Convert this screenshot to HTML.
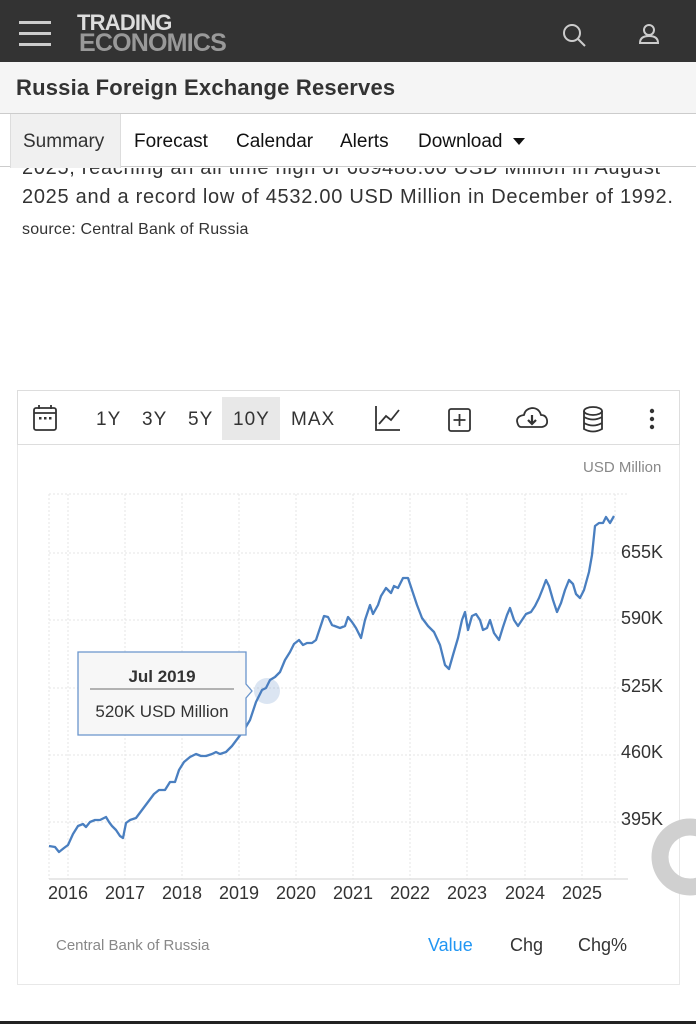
<!DOCTYPE html>
<html><head><meta charset="utf-8"><style>
*{margin:0;padding:0;box-sizing:border-box}
body{width:696px;height:1024px;overflow:hidden;background:#fff;font-family:"Liberation Sans",sans-serif;position:relative}
.abs{position:absolute}
</style></head><body>
<div class="abs" style="left:0;top:0;width:696px;height:62px;background:#333"></div>
<div class="abs" style="left:19px;top:21px;width:32px;height:3px;background:#ccc"></div>
<div class="abs" style="left:19px;top:32px;width:32px;height:3px;background:#ccc"></div>
<div class="abs" style="left:19px;top:43px;width:32px;height:3px;background:#ccc"></div>
<div class="abs" style="left:77px;top:13px;font-size:22px;font-weight:bold;color:#ddd;line-height:20px;letter-spacing:-0.8px">TRADING</div>
<div class="abs" style="left:79px;top:32px;font-size:25px;font-weight:bold;color:#999;line-height:22px;letter-spacing:-0.8px">ECONOMICS</div>
<svg class="abs" style="left:560px;top:22px" width="110" height="26"><circle cx="12" cy="11" r="8" fill="none" stroke="#ccc" stroke-width="2"/><line x1="18" y1="17" x2="25" y2="24" stroke="#ccc" stroke-width="2"/><circle cx="89" cy="8" r="5" fill="none" stroke="#ccc" stroke-width="2"/><path d="M80 21 Q80 14 89 14 Q98 14 98 21 Z" fill="none" stroke="#ccc" stroke-width="2"/></svg>
<div class="abs" style="left:0;top:62px;width:696px;height:52px;background:#f5f5f5;border-bottom:1px solid #ccc"></div>
<div class="abs" style="left:16px;top:75px;font-size:22px;font-weight:bold;color:#333;letter-spacing:0.2px">Russia Foreign Exchange Reserves</div>
<div class="abs" style="left:0;top:114px;width:696px;height:53px;border-bottom:1px solid #ccc;background:#fff"></div>
<div class="abs" style="left:10px;top:114px;width:111px;height:54px;background:#f0f0f0;border-left:1px solid #ddd;border-right:1px solid #ddd"></div>
<div class="abs" style="left:23px;top:131px;font-size:19px;color:#333">Summary</div>
<div class="abs" style="left:134px;top:131px;font-size:19px;color:#111">Forecast</div>
<div class="abs" style="left:236px;top:131px;font-size:19px;color:#111">Calendar</div>
<div class="abs" style="left:340px;top:131px;font-size:19px;color:#111">Alerts</div>
<div class="abs" style="left:418px;top:131px;font-size:19px;color:#111">Download</div>
<svg class="abs" style="left:513px;top:138px" width="12" height="8"><path d="M0 0H12L6 7Z" fill="#111"/></svg>
<div class="abs" style="left:22px;top:168px;width:660px;height:10px;overflow:hidden"><div style="margin-top:-10px;font-size:20px;line-height:20px;color:#333;letter-spacing:0.7px">2025, reaching an all time high of 689488.00 USD Million in August of</div></div>
<div class="abs" style="left:22px;top:186px;font-size:20px;color:#333;letter-spacing:0.72px">2025 and a record low of 4532.00 USD Million in December of 1992.</div>
<div class="abs" style="left:22px;top:221px;font-size:16px;color:#333;letter-spacing:0.2px">source: Central Bank of Russia</div>

<div class="abs" style="left:17px;top:390px;width:663px;height:595px;border:1px solid #e8e8e8"></div>
<div class="abs" style="left:17px;top:390px;width:663px;height:55px;border:1px solid #ddd"></div>
<div class="abs" style="left:222px;top:397px;width:58px;height:43px;background:#e8e8e8"></div>
<svg class="abs" style="left:30px;top:404px" width="30" height="30"><rect x="4" y="4" width="22" height="22" rx="2" fill="none" stroke="#333" stroke-width="1.8"/><line x1="4" y1="9" x2="26" y2="9" stroke="#333" stroke-width="1.8"/><line x1="9" y1="1" x2="9" y2="5" stroke="#333" stroke-width="1.8"/><line x1="21" y1="1" x2="21" y2="5" stroke="#333" stroke-width="1.8"/><rect x="9" y="13" width="2.5" height="2.5" fill="#333"/><rect x="14" y="13" width="2.5" height="2.5" fill="#333"/><rect x="19" y="13" width="2.5" height="2.5" fill="#333"/></svg>
<div class="abs" style="left:96px;top:409px;font-size:19px;color:#333;letter-spacing:1px">1Y</div>
<div class="abs" style="left:142px;top:409px;font-size:19px;color:#333;letter-spacing:1px">3Y</div>
<div class="abs" style="left:188px;top:409px;font-size:19px;color:#333;letter-spacing:1px">5Y</div>
<div class="abs" style="left:233px;top:409px;font-size:19px;color:#333;letter-spacing:1px">10Y</div>
<div class="abs" style="left:291px;top:409px;font-size:19px;color:#333;letter-spacing:1px">MAX</div>
<svg class="abs" style="left:370px;top:402px" width="300" height="34"><path d="M6 4V28H30" fill="none" stroke="#333" stroke-width="1.8"/><path d="M9 22L16 14L21 18L29 8" fill="none" stroke="#333" stroke-width="1.8"/><rect x="79" y="7" width="21" height="22" rx="2" fill="none" stroke="#333" stroke-width="1.8"/><path d="M89.5 12V24M83.5 18H95.5" stroke="#333" stroke-width="1.8"/><path d="M151 25H172Q178 24 177 18Q176 13 171 13Q169 6 162 6Q155 7 154 13Q147 14 147 19Q148 25 151 25Z" fill="none" stroke="#333" stroke-width="1.8"/><path d="M162 13V22M158 18L162 22L166 18" fill="none" stroke="#333" stroke-width="2.2"/><ellipse cx="223" cy="9" rx="9" ry="4" fill="none" stroke="#333" stroke-width="1.8"/><path d="M214 9V27Q223 32 232 27V9M214 15Q223 20 232 15M214 21Q223 26 232 21" fill="none" stroke="#333" stroke-width="1.8"/><circle cx="282" cy="9" r="2.2" fill="#333"/><circle cx="282" cy="17" r="2.2" fill="#333"/><circle cx="282" cy="25" r="2.2" fill="#333"/></svg>
<div class="abs" style="left:583px;top:459px;font-size:15px;color:#888">USD Million</div>

<svg class="abs" style="left:0;top:0" width="696" height="1024">
<g stroke="#e6e6e6" stroke-dasharray="2,2" stroke-width="1">
<line x1="49" y1="494" x2="628" y2="494"/><line x1="49" y1="553" x2="628" y2="553"/><line x1="49" y1="620" x2="628" y2="620"/><line x1="49" y1="688" x2="628" y2="688"/><line x1="49" y1="755" x2="628" y2="755"/><line x1="49" y1="822" x2="628" y2="822"/>
<line x1="68" y1="494" x2="68" y2="879"/><line x1="125" y1="494" x2="125" y2="879"/><line x1="182" y1="494" x2="182" y2="879"/><line x1="239" y1="494" x2="239" y2="879"/><line x1="296" y1="494" x2="296" y2="879"/><line x1="353" y1="494" x2="353" y2="879"/><line x1="410" y1="494" x2="410" y2="879"/><line x1="467" y1="494" x2="467" y2="879"/><line x1="525" y1="494" x2="525" y2="879"/><line x1="582" y1="494" x2="582" y2="879"/><line x1="49" y1="494" x2="49" y2="879"/><line x1="615" y1="494" x2="615" y2="879"/>
</g>
<line x1="49" y1="879" x2="628" y2="879" stroke="#e0e0e0" stroke-width="1.5"/>
<polyline fill="none" stroke="#4a7fc0" stroke-width="2.3" stroke-linejoin="round" points="49,846 55,847 59,852 64,848 68,845 73,834 78,826 83,824 86,827 90,822 95,820 100,820 106,817 109,822 112,826 116,830 120,836 123,838 126,823 130,820 136,818 142,810 148,802 154,794 159,790 165,790 170,782 175,782 179,770 184,762 190,757 196,754 201,756 206,756 212,754 216,752 220,754 226,752 232,746 238,738 244,730 250,720 256,702 262,690 266,688 270,680 275,677 280,672 285,660 290,652 294,644 299,640 303,645 307,643 312,643 316,640 320,628 324,616 328,617 332,625 340,628 345,626 348,617 352,622 356,628 361,638 365,620 370,605 373,614 378,605 381,596 386,588 391,593 394,586 398,588 403,578 408,578 412,590 417,605 422,618 428,626 434,632 440,645 445,665 449,669 453,655 458,638 462,620 465,612 468,630 472,616 476,614 480,620 483,630 487,628 490,620 494,633 499,640 503,627 507,615 510,608 514,620 518,626 522,620 526,614 531,612 535,606 539,598 543,588 546,580 549,586 553,600 557,612 561,603 565,590 569,580 573,584 576,594 580,598 584,590 589,572 592,555 595,526 599,523 603,523 606,517 610,523 614,516"/>
<circle cx="267" cy="691" r="13" fill="#4a7fc0" opacity="0.2"/>
<g font-family="Liberation Sans,sans-serif" font-size="18" fill="#333">
<text x="621" y="558">655K</text><text x="621" y="624">590K</text><text x="621" y="692">525K</text><text x="621" y="758">460K</text><text x="621" y="825">395K</text>
<text x="68" y="899" text-anchor="middle">2016</text><text x="125" y="899" text-anchor="middle">2017</text><text x="182" y="899" text-anchor="middle">2018</text><text x="239" y="899" text-anchor="middle">2019</text><text x="296" y="899" text-anchor="middle">2020</text><text x="353" y="899" text-anchor="middle">2021</text><text x="410" y="899" text-anchor="middle">2022</text><text x="467" y="899" text-anchor="middle">2023</text><text x="525" y="899" text-anchor="middle">2024</text><text x="582" y="899" text-anchor="middle">2025</text>
</g>
<path d="M78 652H246V684L252 691L246 698V735H78Z" fill="#f7f7f7" stroke="#6a95cc" stroke-width="1.3"/>
<line x1="90" y1="689" x2="234" y2="689" stroke="#888" stroke-width="1.2"/>
<text x="162" y="682" text-anchor="middle" font-family="Liberation Sans,sans-serif" font-weight="bold" font-size="17" fill="#333">Jul 2019</text>
<text x="162" y="717" text-anchor="middle" font-family="Liberation Sans,sans-serif" font-size="17" fill="#333">520K USD Million</text>
<circle cx="690" cy="857" r="30" fill="none" stroke="#d0d0d0" stroke-width="17"/>
<text x="56" y="950" font-family="Liberation Sans,sans-serif" font-size="15" fill="#888">Central Bank of Russia</text>
<text x="428" y="951" font-family="Liberation Sans,sans-serif" font-size="18" fill="#2196f3">Value</text>
<text x="510" y="951" font-family="Liberation Sans,sans-serif" font-size="18" fill="#333">Chg</text>
<text x="578" y="951" font-family="Liberation Sans,sans-serif" font-size="18" fill="#333">Chg%</text>
<rect x="0" y="1021" width="696" height="3" fill="#222"/>
</svg>
</body></html>
